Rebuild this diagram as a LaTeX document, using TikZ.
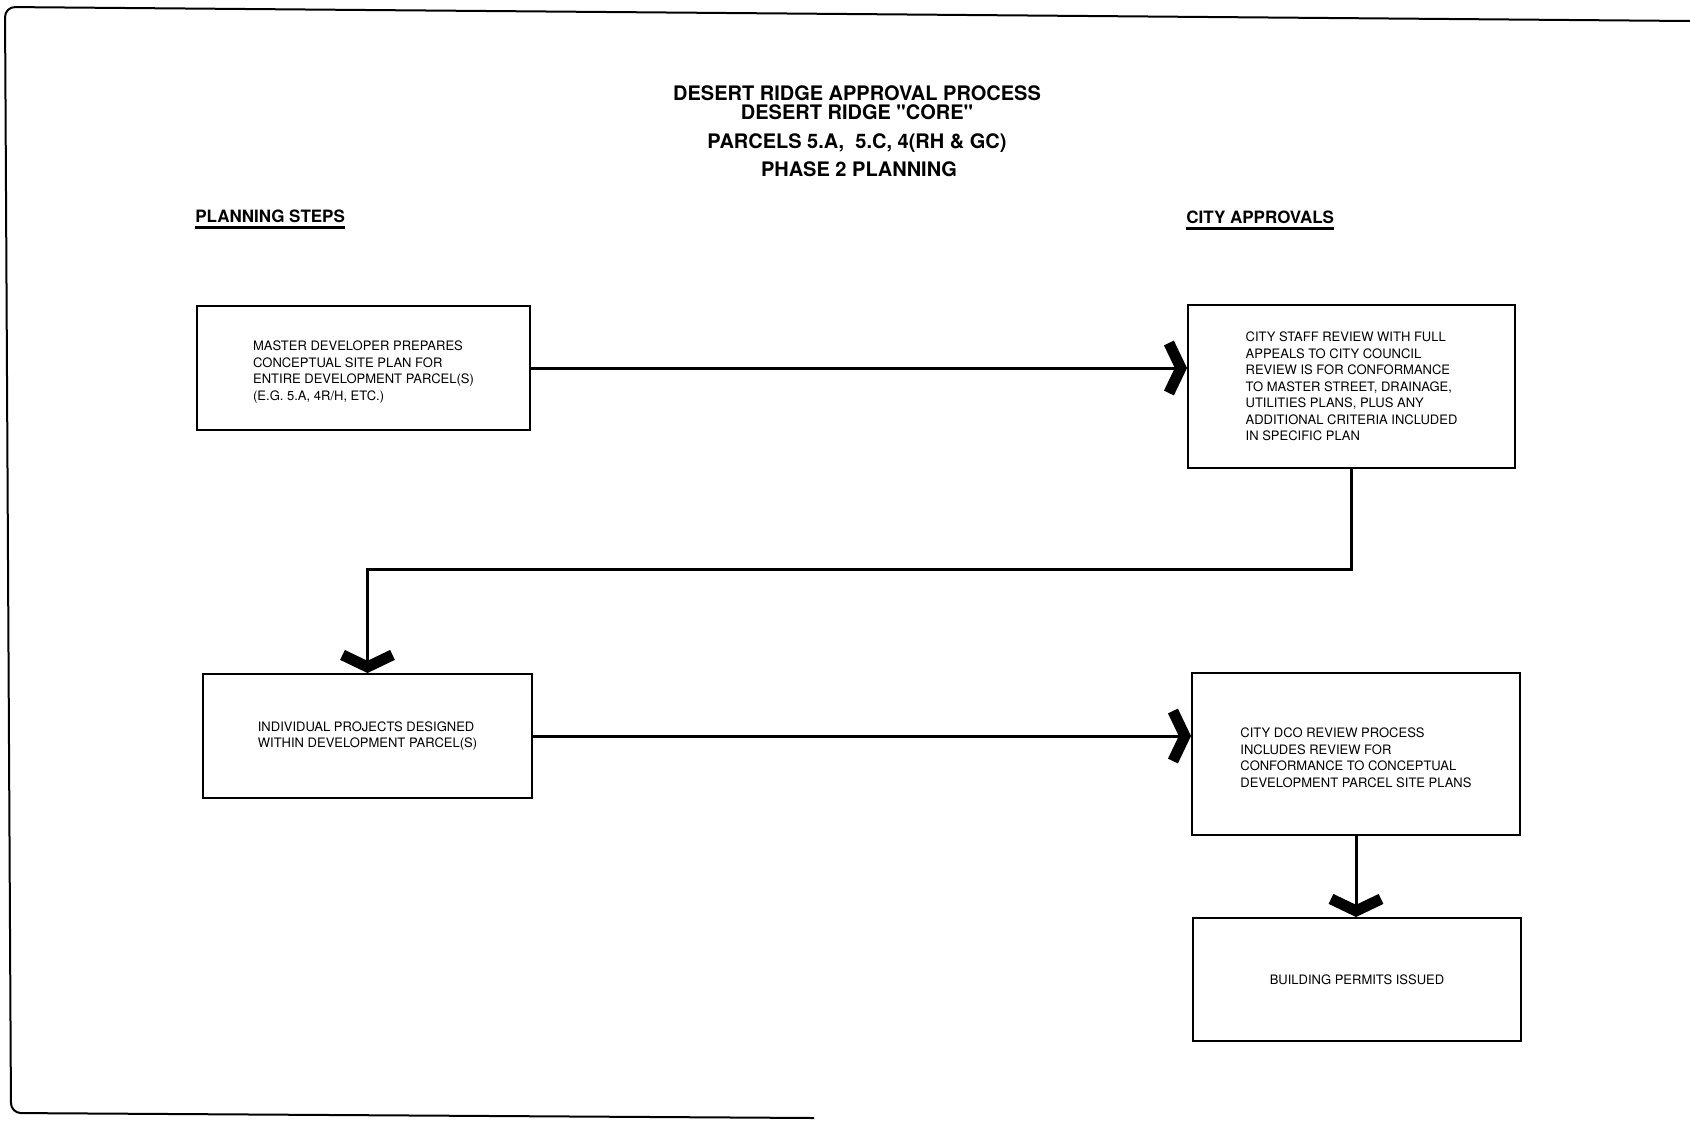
\documentclass[tikz,border=0pt]{standalone}
\usepackage{fontspec}
\setmainfont{TeX Gyre Heros}
\usetikzlibrary{arrows.meta}
\begin{document}
\begin{tikzpicture}[x=0.5pt,y=-0.5pt,
  stepbox/.style={draw, line width=1pt, align=left, inner sep=0pt, font=\fontsize{6.5}{8.25}\selectfont},
  flow/.style={line width=1.5pt, -{Straight Barb[length=6pt,width=25pt,line width=5.5pt]}},
  titletext/.style={anchor=base, inner sep=0pt, font=\fontsize{10}{12}\selectfont\bfseries},
  headtext/.style={anchor=base west, inner sep=0pt, font=\fontsize{8.5}{10}\selectfont\bfseries}]
\useasboundingbox (0,0) rectangle (1690,1120);
\draw[line width=1pt, rounded corners=5pt] (1690,21) -- (5,7) -- (11,1113) -- (814,1118);
\node[titletext] (title1) at (857,100) {DESERT RIDGE APPROVAL PROCESS};
\node[titletext] (title2) at (857,119) {DESERT RIDGE \textquotedbl CORE\textquotedbl};
\node[titletext] (title3) at (857,148) {PARCELS 5.A, \ 5.C, 4(RH \& GC)};
\node[titletext] (title4) at (859,176) {PHASE 2 PLANNING};
\node[headtext] (head1) at (195,222) {PLANNING STEPS};
\draw[line width=1.5pt] ([yshift=-2.75pt]head1.base west) -- ([yshift=-2.75pt]head1.base east);
\node[headtext] (head2) at (1186,223) {CITY APPROVALS};
\draw[line width=1.5pt] ([yshift=-2.75pt]head2.base west) -- ([yshift=-2.75pt]head2.base east);
\node[stepbox, minimum width=166.5pt, minimum height=62pt] (plan1) at (363.5,368) {\rule{0pt}{9pt}MASTER DEVELOPER PREPARES\\CONCEPTUAL SITE PLAN FOR\\ENTIRE DEVELOPMENT PARCEL(S)\\(E.G. 5.A, 4R/H, ETC.)};
\node[stepbox, minimum width=163.5pt, minimum height=81.5pt] (city1) at (1351.5,386.5) {CITY STAFF REVIEW WITH FULL\\APPEALS TO CITY COUNCIL\\REVIEW IS FOR CONFORMANCE\\TO MASTER STREET, DRAINAGE,\\UTILITIES PLANS, PLUS ANY\\ADDITIONAL CRITERIA INCLUDED\\IN SPECIFIC PLAN};
\draw[flow] (plan1.east) -- (plan1.east -| city1.west);
\node[stepbox, minimum width=164.5pt, minimum height=62pt] (plan2) at (367.5,736) {INDIVIDUAL PROJECTS DESIGNED\\WITHIN DEVELOPMENT PARCEL(S)};
\coordinate (bend) at (plan2.north |- 0,569);
\draw[flow] (city1.south) |- (bend) -- (plan2.north);
\node[stepbox, minimum width=164pt, minimum height=81pt] (city2) at (1356,754) {\rule{0pt}{8.5pt}CITY DCO REVIEW PROCESS\\INCLUDES REVIEW FOR\\CONFORMANCE TO CONCEPTUAL\\DEVELOPMENT PARCEL SITE PLANS};
\draw[flow] (plan2.east) -- (plan2.east -| city2.west);
\node[stepbox, minimum width=164pt, minimum height=61.5pt] (city3) at (1357,979.5) {BUILDING PERMITS ISSUED};
\draw[flow] (city2.south) -- (city2.south |- city3.north);
\end{tikzpicture}
\end{document}
